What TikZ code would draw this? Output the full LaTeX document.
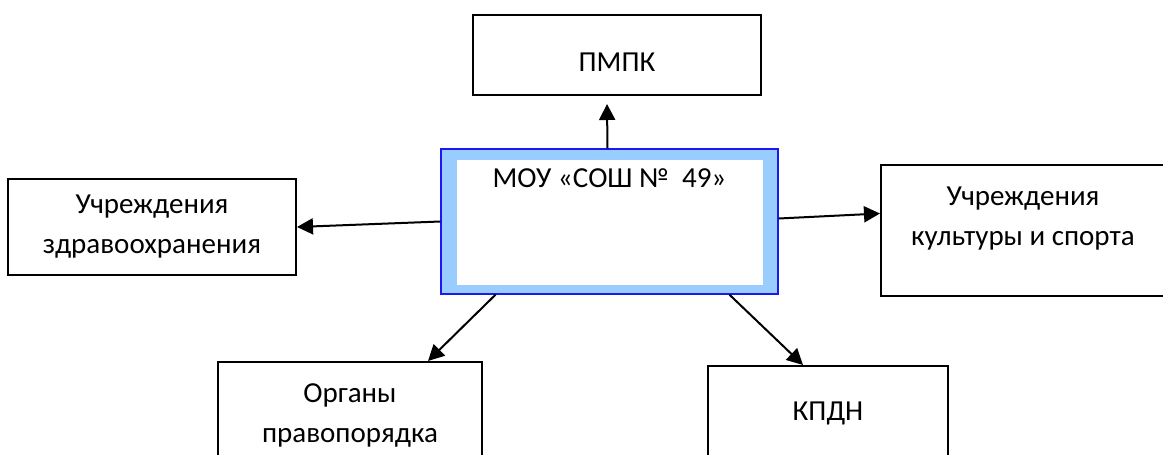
\documentclass[tikz,border=0pt]{standalone}
\usepackage{fontspec}
\setmainfont{Carlito}
\usepackage{tikz}
\usetikzlibrary{arrows.meta}
\usetikzlibrary{positioning}

\definecolor{framefill}{HTML}{99CCFF}
\definecolor{frameline}{HTML}{1A1AF0}

\begin{document}
\begin{tikzpicture}[x=0.5pt,y=-0.5pt,
	box/.style={rectangle,draw,line width=1pt,inner sep=0pt},
	boxtext/.style={align=center,font=\fontsize{14.5pt}{20pt}\selectfont},
	link/.style={-{Triangle[length=8pt,width=8pt]},line width=1pt}]
	\useasboundingbox (0,0) rectangle (1163,455);
	\clip (0,0) rectangle (1163,455);
	% centre
	\node [rectangle,draw=frameline,line width=0.7pt,fill=framefill,minimum width=168.5pt,minimum height=72.5pt] (centre) at (609.5,221.5) {};
	\fill [white] ([shift={(8.5pt,5pt)}]centre.south west) rectangle ([shift={(-8pt,-6pt)}]centre.north east);
	\node [boxtext] (school) at ([yshift=-15pt]centre.north) {МОУ «СОШ №\ \ 49»};
	% partners
	\node [box,boxtext,minimum width=144pt,minimum height=40pt,text height=16pt] (pmpk) at (617,55) {ПМПК};
	\node [box,boxtext,minimum width=144pt,minimum height=48pt] (health) at (152,227) {Учреждения\\здравоохранения};
	\node [box,minimum width=143.5pt,minimum height=65.5pt] (culture) at (1024.5,230.5) {};
	\node [boxtext] (culturetext) at (1023,218.5) {Учреждения\\культуры и спорта};
	\node [box,boxtext,minimum width=132pt,minimum height=53pt] (law) at (350,415) {Органы\\правопорядка};
	\node [box,boxtext,minimum width=120pt,minimum height=47pt] (kpdn) at (828,413) {КПДН};
	% links
	\draw [link] ([xshift=-1pt]centre.north) -- ([xshift=-5pt,yshift=-4pt]pmpk.south);
	\draw [link] (centre.west) -- (health.east);
	\draw [link] ([yshift=1.5pt]centre.east) -- ([yshift=8.5pt]culture.west);
	\draw [link] ([xshift=-57pt]centre.south) -- ([xshift=39pt]law.north);
	\draw [link] ([xshift=60pt]centre.south) -- ([xshift=-12.5pt]kpdn.north);
\end{tikzpicture}
\end{document}
